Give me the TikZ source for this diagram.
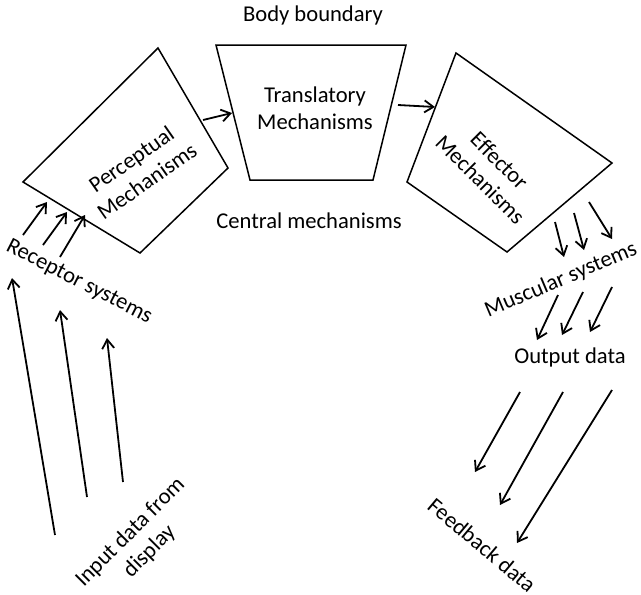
\documentclass[tikz,border=0pt]{standalone}
\usepackage{fontspec}
\setmainfont{Carlito}
\usetikzlibrary{arrows.meta}

\tikzset{
  mech/.style={draw, line width=0.75pt},
  flow/.style={line width=0.9pt, -{Straight Barb[length=4.5pt,width=6pt]}},
  lbl/.style={font=\fontsize{11.3}{13.5}\selectfont, inner sep=0pt, align=center},
}

\begin{document}
\begin{tikzpicture}[x=0.5pt,y=-0.5pt]
    \useasboundingbox (0,0) rectangle (641,594);

    % the three mechanism boxes
    \draw[mech] (158,48) coordinate (perT) -- (228,168) coordinate (perR)
      -- (140,253) coordinate (perB) -- (23,182) coordinate (perL) -- cycle;
    \draw[mech] (216,45) coordinate (traTL) -- (406,45) coordinate (traTR)
      -- (373,180) coordinate (traBR) -- (250,180) coordinate (traBL) -- cycle;
    \draw[mech] (456,53) coordinate (effT) -- (612,163) coordinate (effR)
      -- (507,252) coordinate (effB) -- (407,182) coordinate (effL) -- cycle;

    \node[lbl, rotate=35] (per) at (139,170) {Perceptual\\Mechanisms};
    \node[lbl] (tra) at (315,108) {Translatory\\Mechanisms};
    \node[lbl, rotate=-45] (eff) at (490,170) {Effector\\Mechanisms};

    \node[lbl] (body) at (313,15) {Body boundary};
    \node[lbl] (central) at (309,221) {Central mechanisms};

    % between the boxes
    \coordinate (pt1) at (203,120);
    \coordinate (pt2) at (232,113);
    \coordinate (te1) at (398,105);
    \coordinate (te2) at (435,107);
    \draw[flow] (pt1) -- (pt2);
    \draw[flow] (te1) -- (te2);

    % input side
    \node[lbl, rotate=-27] (receptor) at (79,282) {Receptor systems};
    \node[lbl, rotate=45] (input) at (140,542) {Input data from\\display};
    \foreach \x/\y/\u/\v [count=\i] in {23/235/47/202, 43/245/67/212, 60/257/85/215} {
      \coordinate (recA\i) at (\x,\y);
      \coordinate (recB\i) at (\u,\v);
      \draw[flow] (recA\i) -- (recB\i);
    }
    \foreach \x/\y/\u/\v [count=\i] in {55/535/12/278, 87/497/60/310, 123/482/107/338} {
      \coordinate (inA\i) at (\x,\y);
      \coordinate (inB\i) at (\u,\v);
      \draw[flow] (inA\i) -- (inB\i);
    }

    % output side
    \node[lbl, rotate=23] (muscular) at (561,280) {Muscular systems};
    \node[lbl] (output) at (570,357) {Output data};
    \node[lbl, rotate=-40] (feedback) at (482,545) {Feedback data};
    \foreach \x/\y/\u/\v [count=\i] in {555/222/564/257, 574/213/584/250, 589/202/612/239} {
      \coordinate (musA\i) at (\x,\y);
      \coordinate (musB\i) at (\u,\v);
      \draw[flow] (musA\i) -- (musB\i);
    }
    \foreach \x/\y/\u/\v [count=\i] in {558/295/537/340, 583/292/562/335, 612/287/590/332} {
      \coordinate (outA\i) at (\x,\y);
      \coordinate (outB\i) at (\u,\v);
      \draw[flow] (outA\i) -- (outB\i);
    }
    \foreach \x/\y/\u/\v [count=\i] in {520/392/475/472, 563/392/500/505, 612/390/517/543} {
      \coordinate (fbA\i) at (\x,\y);
      \coordinate (fbB\i) at (\u,\v);
      \draw[flow] (fbA\i) -- (fbB\i);
    }
\end{tikzpicture}
\end{document}
